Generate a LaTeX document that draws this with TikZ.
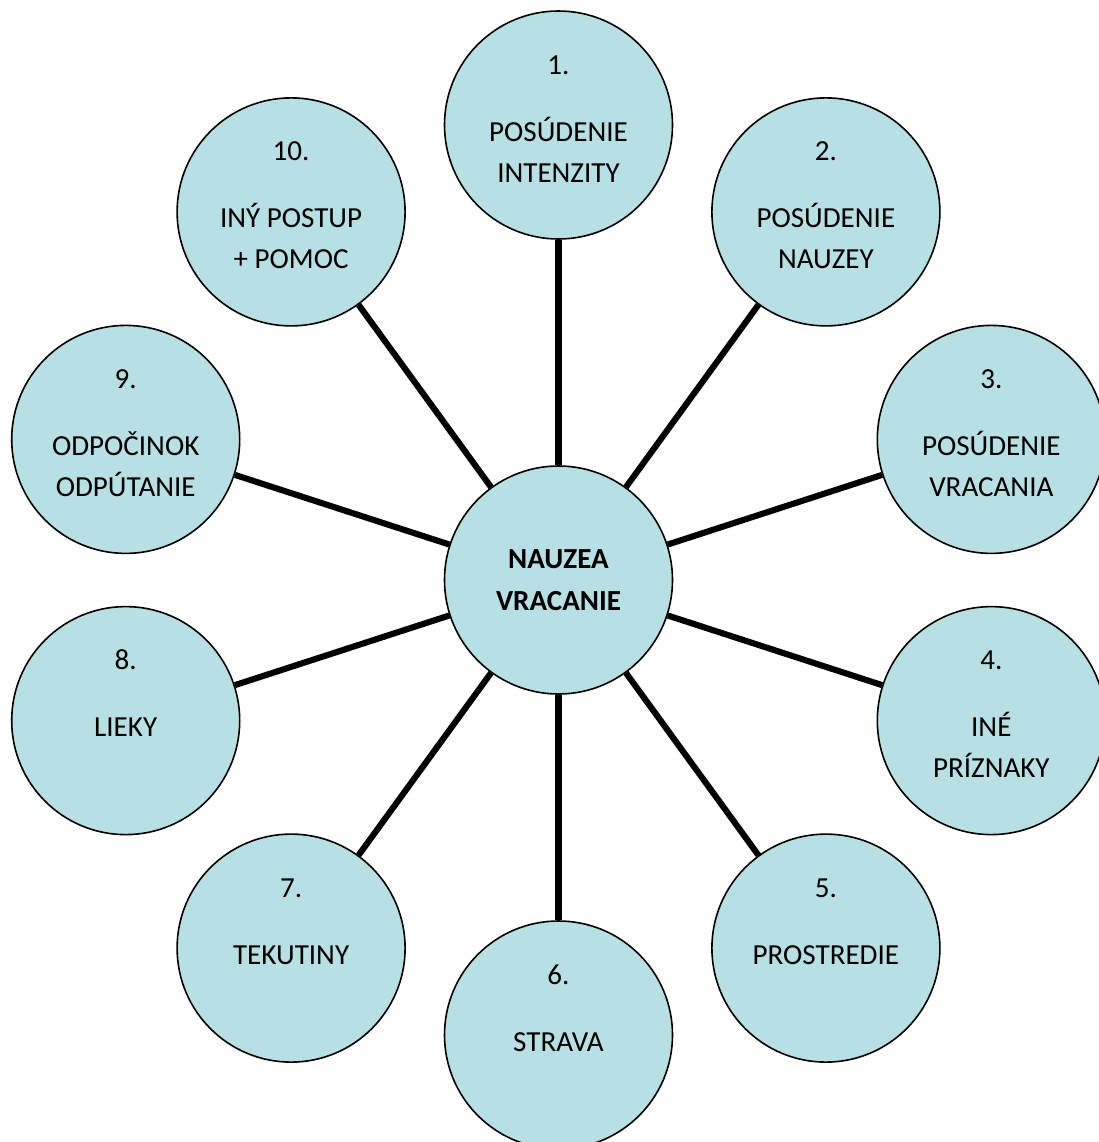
\documentclass[tikz,border=0pt]{standalone}
\usepackage{fontspec}
\setmainfont{Carlito}
\usetikzlibrary{calc}
\definecolor{bub}{RGB}{184,223,227}
\begin{document}
\begin{tikzpicture}[x=0.75pt,y=-0.75pt,
  bubble/.style={circle,draw=black,line width=1.2pt,fill=bub,minimum size=171pt,inner sep=0pt},
  lbl/.style={anchor=base,inner sep=0pt,font=\fontsize{21.8}{26}\selectfont},
  spoke/.style={line width=4.6pt}]
\useasboundingbox (0,0) rectangle (1099,1142);
\clip (0,0) rectangle (1099,1142);
\node[bubble] (c0) at (558.5,580) {};
\node[lbl,font=\fontsize{21.8}{26}\selectfont\bfseries] (t0a) at ($(c0)+(0,-12)$) {NAUZEA};
\node[lbl,font=\fontsize{21.8}{26}\selectfont\bfseries] (t0b) at ($(c0)+(0,30)$) {VRACANIE};
\foreach \i/\x/\y/\num/\la/\lb in {
  1/558.5/125/1./POSÚDENIE/INTENZITY,
  2/825.9/211.9/2./POSÚDENIE/NAUZEY,
  3/991.3/439.4/3./POSÚDENIE/VRACANIA,
  4/991.3/720.6/4./INÉ/PRÍZNAKY,
  5/825.9/948.1/5./PROSTREDIE/{},
  6/558.5/1035/6./STRAVA/{},
  7/291.1/948.1/7./TEKUTINY/{},
  8/125.7/720.6/8./LIEKY/{},
  9/125.7/439.4/9./ODPOČINOK/ODPÚTANIE,
  10/291.1/211.9/10./INÝ POSTUP/+ POMOC}{
  \node[bubble] (c\i) at (\x,\y) {};
  \node[lbl] (n\i) at ($(c\i)+(0,-51)$) {\num};
  \node[lbl] (a\i) at ($(c\i)+(0,16)$) {\la};
  \node[lbl] (b\i) at ($(c\i)+(0,57)$) {\lb};
}
\foreach \i in {1,...,10}{
  \draw[spoke] (c0) -- (c\i);
}
\end{tikzpicture}
\end{document}
